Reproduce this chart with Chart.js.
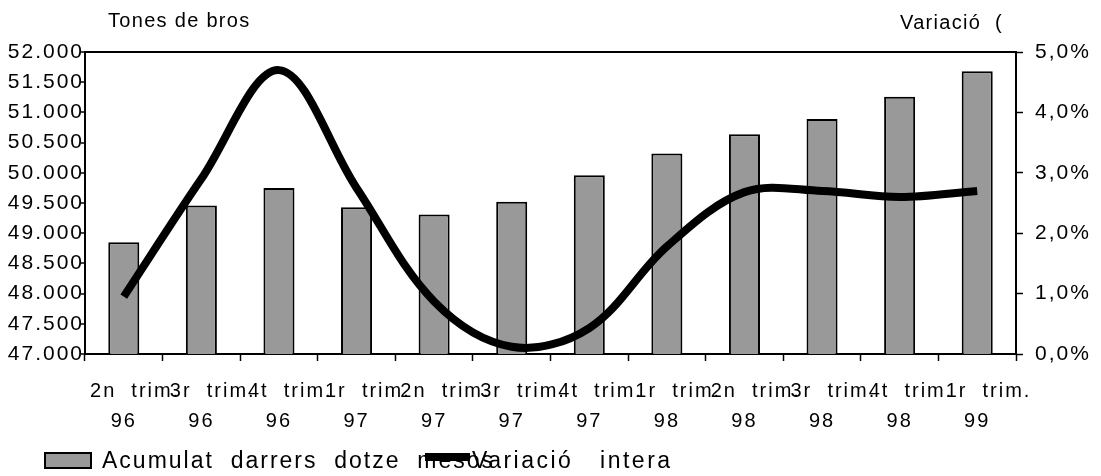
<!DOCTYPE html>
<html lang="ca">
  <head>
    <meta charset="UTF-8" />
    <title>Tones de brossa</title>
    <style>
      body {
        margin: 0;
        background-color: #fff;
      }
      #chart {
        display: block;
      }
    </style>
  </head>
  <body>
    <canvas id="chart" width="1101" height="476"></canvas>

    <script src="https://cdn.jsdelivr.net/npm/chart.js"></script>
    <script>
      // quarters: first line / second line of each label
      var quarters = [
        ["2n  trim.", "96"],
        ["3r  trim.", "96"],
        ["4t  trim.", "96"],
        ["1r  trim.", "97"],
        ["2n  trim.", "97"],
        ["3r  trim.", "97"],
        ["4t  trim.", "97"],
        ["1r  trim.", "98"],
        ["2n  trim.", "98"],
        ["3r  trim.", "98"],
        ["4t  trim.", "98"],
        ["1r  trim.", "99"],
      ];
      // tones, accumulated last twelve months
      var tones = [
        48850, 49460, 49750, 49430, 49310, 49520, 49960, 50320, 50640, 50890,
        51260, 51680,
      ];
      // year-on-year variation, %
      var variacio = [
        0.95, 2.9, 4.7, 2.75, 0.87, 0.12, 0.43, 1.78, 2.68, 2.7, 2.6, 2.7,
      ];
      var tonesMin = 47000;
      var tonesMax = 52000;
      var tonesStep = 500;
      var varMin = 0;
      var varMax = 5;
      var varStep = 1;
      var axisTitles = ["Tones de bros", "Variació  ("];
      var legendLabels = ["Acumulat  darrers  dotze  mesos", "Variació   intera"];

      var FONT = "'Liberation Sans', Arial, sans-serif";
      Chart.defaults.color = "#000";
      Chart.defaults.font.family = FONT;

      function thousands(v) {
        return String(v).replace(/\B(?=(\d{3})+(?!\d))/g, ".");
      }

      // the original has wide letter spacing everywhere
      var spacing = {
        id: "spacing",
        beforeLayout: function (chart) {
          chart.ctx.letterSpacing = "2px";
        },
        beforeDraw: function (chart) {
          chart.ctx.letterSpacing = "2px";
        },
      };

      // axis titles on top and the legend at the bottom
      var extras = {
        id: "extras",
        afterDraw: function (chart) {
          var ctx = chart.ctx;
          var bars = chart.data.datasets[0];
          var line = chart.data.datasets[1];
          ctx.save();
          ctx.fillStyle = "#000";
          ctx.textBaseline = "alphabetic";
          ctx.textAlign = "left";
          ctx.font = "20px " + FONT;
          ctx.letterSpacing = "1.3px";
          ctx.fillText(axisTitles[0], 108, 27);
          ctx.fillText(axisTitles[1], 900, 29);

          ctx.fillStyle = bars.backgroundColor;
          ctx.fillRect(45, 453, 46, 15);
          ctx.lineWidth = 2;
          ctx.strokeStyle = "#000";
          ctx.strokeRect(45, 453, 46, 15);

          ctx.fillStyle = "#000";
          ctx.font = "23px " + FONT;
          ctx.letterSpacing = "2px";
          ctx.fillText(legendLabels[0], 102, 468);
          ctx.beginPath();
          ctx.moveTo(425, 457);
          ctx.lineTo(470, 457);
          ctx.lineWidth = line.borderWidth;
          ctx.strokeStyle = line.borderColor;
          ctx.stroke();
          ctx.letterSpacing = "2.5px";
          ctx.fillText(legendLabels[1], 472, 468);
          ctx.restore();
        },
      };

      var ctx = document.getElementById("chart").getContext("2d");
      var chart = new Chart(ctx, {
        type: "bar",
        data: {
          labels: quarters,
          datasets: [
            {
              type: "bar",
              label: legendLabels[0],
              data: tones,
              yAxisID: "y",
              backgroundColor: "#999999",
              borderColor: "#000",
              borderWidth: 2,
              barPercentage: 0.4,
              categoryPercentage: 1,
              order: 1,
            },
            {
              type: "line",
              label: legendLabels[1],
              data: variacio,
              yAxisID: "y1",
              borderColor: "#000",
              borderWidth: 8,
              borderCapStyle: "butt",
              pointRadius: 0,
              tension: 0.35,
              fill: false,
              order: 0,
            },
          ],
        },
        options: {
          responsive: false,
          animation: false,
          devicePixelRatio: 1,
          layout: { padding: { top: 52, left: 0, right: 0, bottom: 0 } },
          plugins: {
            legend: { display: false },
            tooltip: { enabled: false },
          },
          scales: {
            x: {
              border: { color: "#000", width: 2 },
              grid: {
                offset: true,
                drawOnChartArea: false,
                tickColor: "#000",
                tickLength: 7,
                tickWidth: 1.5,
              },
              ticks: {
                autoSkip: false,
                maxRotation: 0,
                minRotation: 0,
                padding: 15,
                font: { size: 20, lineHeight: 1.5 },
                // first line sits a little to the right in the original
                callback: function (v, i) {
                  return ["   " + quarters[i][0], quarters[i][1]];
                },
              },
              afterFit: function (scale) {
                scale.height = 122;
              },
            },
            y: {
              position: "left",
              min: tonesMin,
              max: tonesMax,
              border: { color: "#000", width: 2 },
              grid: {
                color: function (c) {
                  return c.tick && c.tick.value === tonesMax
                    ? "#000"
                    : "rgba(0,0,0,0)";
                },
                lineWidth: 2,
                tickColor: "#000",
                tickLength: 4,
                tickWidth: 1.5,
              },
              ticks: {
                stepSize: tonesStep,
                padding: -3,
                font: { size: 21 },
                callback: function (v) {
                  return thousands(v);
                },
              },
              afterFit: function (scale) {
                scale.width = 85;
              },
            },
            y1: {
              position: "right",
              min: varMin,
              max: varMax,
              border: { color: "#000", width: 2 },
              grid: {
                drawOnChartArea: false,
                tickColor: "#000",
                tickLength: 7,
                tickWidth: 1.5,
              },
              ticks: {
                stepSize: varStep,
                padding: 12,
                font: { size: 21 },
                callback: function (v) {
                  return v.toFixed(1).replace(".", ",") + "%";
                },
              },
              afterFit: function (scale) {
                scale.width = 85;
              },
            },
          },
        },
        plugins: [spacing, extras],
      });
    </script>
  </body>
</html>
